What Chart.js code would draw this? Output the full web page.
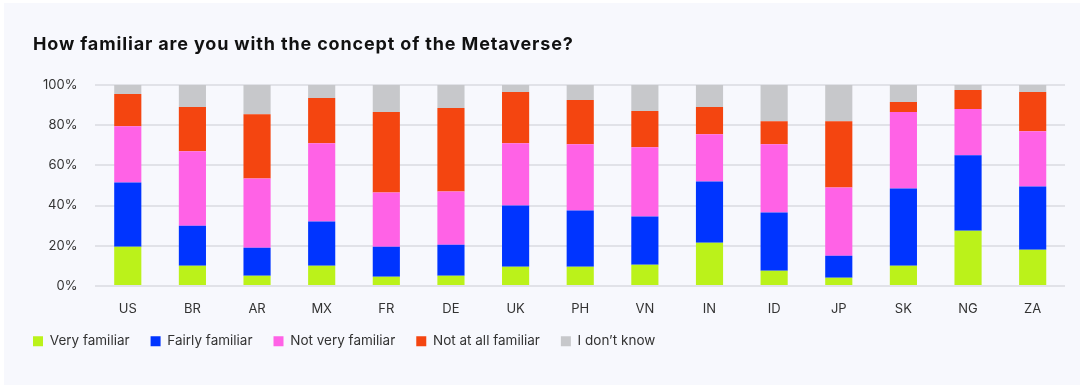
<!DOCTYPE html>
<html>
<head>
<meta charset="utf-8">
<script src="https://cdn.jsdelivr.net/npm/chart.js@4.4.1/dist/chart.umd.min.js"></script>
<style>
  html, body { margin: 0; padding: 0; background: #fff; }
  .card {
    position: absolute; left: 4px; top: 3px;
    width: 1076px; height: 382px;
    background: #f7f8fd;
  }
  .title {
    position: absolute; left: 29px; top: 30px;
    font-family: Inter, "Noto Sans", sans-serif;
    font-size: 18px; font-weight: 700; letter-spacing: 0.85px;
    color: #111;
  }
  canvas { display: block; position: absolute; left: 0; top: 0; }
</style>
</head>
<body>
<div class="card">
  <canvas id="chart" width="1076" height="382"></canvas>
  <div class="title">How familiar are you with the concept of the Metaverse?</div>
</div>
<script>
  const countries = ['US', 'BR', 'AR', 'MX', 'FR', 'DE', 'UK', 'PH', 'VN', 'IN', 'ID', 'JP', 'SK', 'NG', 'ZA'];

  const veryFamiliar   = [19.5, 10, 5, 10, 4.5, 5, 9.5, 9.5, 10.5, 21.5, 7.5, 4, 10, 27.5, 18];
  const fairlyFamiliar = [32, 20, 14, 22, 15, 15.5, 30.5, 28, 24, 30.5, 29, 11, 38.5, 37.5, 31.5];
  const notVery        = [28, 37, 34.5, 39, 27, 26.5, 31, 33, 34.5, 23.5, 34, 34, 38, 23, 27.5];
  const notAtAll       = [16, 22, 32, 22.5, 40, 41.5, 25.5, 22, 18, 13.5, 11.5, 33, 5, 9.5, 19.5];
  const dontKnow       = [4.5, 11, 14.5, 6.5, 13.5, 11.5, 3.5, 7.5, 13, 11, 18, 18, 8.5, 2.5, 3.5];

  const seriesNames = ['Very familiar', 'Fairly familiar', 'Not very familiar', 'Not at all familiar', "I don\u2019t know"];
  const seriesColors = ['#bbf21a', '#0034ff', '#ff62e6', '#f44510', '#c7c8cb'];
  const seriesData = [veryFamiliar, fairlyFamiliar, notVery, notAtAll, dontKnow];

  const fontFamily = 'Inter, "Noto Sans", sans-serif';
  const legendLeft = 29;  // legend starts flush with the title
  const legendLift = 10;  // pull the legend row a bit closer to the axis

  const legendShift = {
    id: 'legendShift',
    afterLayout(chart) {
      const lg = chart.legend;
      const pad = lg.options.labels.padding;
      const w = lg.right - lg.left;
      lg.left = legendLeft - pad;
      lg.right = lg.left + w;
      lg.top -= legendLift;
      lg.bottom -= legendLift;
    }
  };

  new Chart(document.getElementById('chart'), {
    type: 'bar',
    data: {
      labels: countries,
      datasets: seriesData.map((d, i) => ({
        label: seriesNames[i],
        data: d,
        backgroundColor: seriesColors[i],
        borderWidth: 0,
        barPercentage: 0.42,
        categoryPercentage: 1
      }))
    },
    options: {
      responsive: false,
      animation: false,
      layout: { padding: { left: 21, right: 15, top: 82, bottom: 17 } },
      scales: {
        x: {
          stacked: true,
          grid: { display: false },
          border: { display: false },
          ticks: { color: '#333', padding: 7, font: { family: fontFamily, size: 13 } }
        },
        y: {
          stacked: true,
          min: 0, max: 100,
          grid: { color: '#e1e2e8', lineWidth: 2, drawTicks: false },
          border: { display: false },
          ticks: {
            stepSize: 20,
            color: '#333',
            padding: 18,
            font: { family: fontFamily, size: 13 },
            callback: v => v + '%'
          }
        }
      },
      plugins: {
        legend: {
          position: 'bottom',
          align: 'start',
          labels: {
            boxWidth: 10, boxHeight: 10,
            color: '#333',
            padding: 21,
            font: { family: fontFamily, size: 13.5 }
          }
        },
        tooltip: { enabled: false }
      }
    },
    plugins: [legendShift]
  });
</script>
</body>
</html>
